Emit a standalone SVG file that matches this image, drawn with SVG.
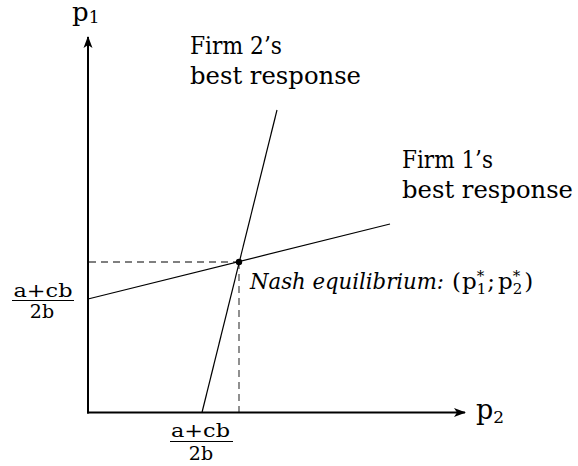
<svg xmlns="http://www.w3.org/2000/svg" width="578" height="466" viewBox="0 0 578 466">
<style>
.t{font-family:"DejaVu Serif","Liberation Serif",serif;fill:#000}
.it{font-style:italic}
.axis{stroke:#000;stroke-width:2;fill:none}
.br{stroke:#000;stroke-width:1.2;fill:none}
.dash{stroke:#555;stroke-width:1.3;stroke-dasharray:7 5;fill:none}
.bar{stroke:#000;stroke-width:1;fill:none}
</style>
<defs>
<marker id="arr" viewBox="0 0 12 10" refX="11" refY="5" markerWidth="12" markerHeight="10" markerUnits="userSpaceOnUse" orient="auto">
<path d="M0,0.5 L12,5 L0,9.5 L3,5 Z" fill="#000"/>
</marker>
</defs>
<rect width="578" height="466" fill="#fff"/>
<g id="connectors">
<line class="dash" x1="89" y1="262" x2="239" y2="262"/>
<line class="dash" x1="239" y1="262" x2="239" y2="412"/>
<line class="br" x1="88" y1="299" x2="390" y2="224"/>
<line class="br" x1="202" y1="412.5" x2="277" y2="110"/>
<line class="axis" x1="88" y1="413.5" x2="88" y2="37" marker-end="url(#arr)"/>
<line class="axis" x1="87" y1="412.5" x2="465" y2="412.5" marker-end="url(#arr)"/>
</g>
<g id="p1-label">
<text class="t" x="72" y="21" font-size="26">p<tspan font-size="17" dy="2">1</tspan></text>
</g>
<g id="p2-label">
<text class="t" x="476" y="419" font-size="27">p<tspan font-size="17" dy="4">2</tspan></text>
</g>
<g id="firm2">
<text class="t" x="190" y="54" font-size="24.5" textLength="92" lengthAdjust="spacingAndGlyphs">Firm 2’s</text>
<text class="t" x="190" y="84" font-size="24.5" textLength="171" lengthAdjust="spacingAndGlyphs">best response</text>
</g>
<g id="firm1">
<text class="t" x="402" y="168" font-size="24.5" textLength="91" lengthAdjust="spacingAndGlyphs">Firm 1’s</text>
<text class="t" x="402" y="198" font-size="24.5" textLength="171" lengthAdjust="spacingAndGlyphs">best response</text>
</g>
<g id="nash">
<circle cx="239" cy="262" r="3.2" fill="#000"/>
<text class="t it" x="250" y="289" font-size="21.5" textLength="194" lengthAdjust="spacingAndGlyphs">Nash equilibrium:</text>
<text class="t" x="452" y="289" font-size="23">(<tspan dx="1">p</tspan><tspan font-size="15" dy="-8">*</tspan><tspan font-size="15" dx="-7.5" dy="13">1</tspan><tspan dx="1" dy="-5">;</tspan><tspan dx="3">p</tspan><tspan font-size="15" dy="-8">*</tspan><tspan font-size="15" dx="-7.5" dy="13">2</tspan><tspan dx="2" dy="-5">)</tspan></text>
</g>
<g id="frac-left">
<text class="t" x="43" y="297" font-size="19" text-anchor="middle" textLength="59" lengthAdjust="spacingAndGlyphs">a+cb</text>
<line class="bar" x1="12" y1="300.5" x2="74" y2="300.5"/>
<text class="t" x="42" y="318" font-size="19" text-anchor="middle">2b</text>
</g>
<g id="frac-bottom">
<text class="t" x="200.5" y="437" font-size="19" text-anchor="middle" textLength="59" lengthAdjust="spacingAndGlyphs">a+cb</text>
<line class="bar" x1="170" y1="441.5" x2="233" y2="441.5"/>
<text class="t" x="201" y="460" font-size="19" text-anchor="middle">2b</text>
</g>
</svg>
